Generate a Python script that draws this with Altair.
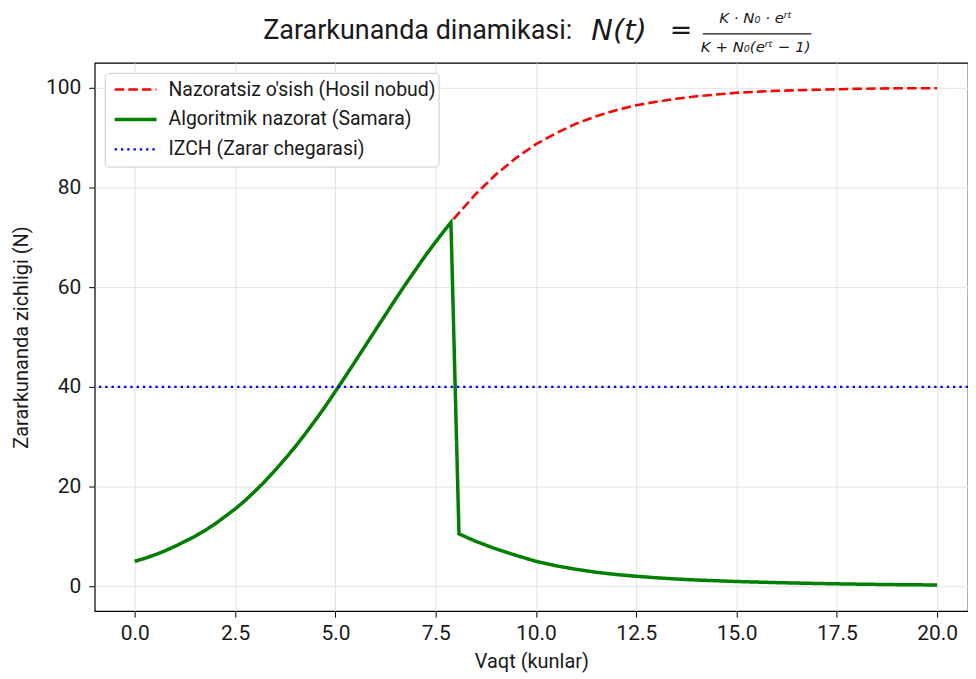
import altair as alt
import pandas as pd

# ---- data ----
SERIES = ["Nazoratsiz o'sish (Hosil nobud)", "Algoritmik nazorat (Samara)", "IZCH (Zarar chegarasi)"]

# shared rising part (both curves coincide until the intervention)
t_rise = [0, 0.25, 0.5, 0.75, 1, 1.25, 1.5, 1.75, 2, 2.25, 2.5, 2.75, 3, 3.25, 3.5, 3.75,
          4, 4.25, 4.5, 4.75, 5, 5.25, 5.5, 5.75, 6, 6.25, 6.5, 6.75, 7, 7.25, 7.5, 7.75, 7.88]
n_rise = [5.0, 5.6, 6.3, 7.1, 8.0, 9.0, 10.0, 11.2, 12.5, 14.0, 15.5, 17.2, 19.1, 21.1,
          23.3, 25.6, 28.0, 30.6, 33.3, 36.1, 39.1, 42.1, 45.2, 48.3, 51.4, 54.5, 57.6,
          60.6, 63.5, 66.4, 69.1, 71.7, 73.0]

# uncontrolled growth after t = 7.88
t_free_tail = [8.08, 8.5, 9, 9.5, 10, 10.5, 11, 11.5, 12, 12.5, 13, 13.5, 14, 15, 16, 17,
               18, 19, 20]
n_free_tail = [74.9, 78.7, 82.6, 85.9, 88.7, 90.9, 92.8, 94.3, 95.5, 96.5, 97.2, 97.8,
               98.3, 99.0, 99.4, 99.6, 99.8, 99.9, 99.9]

# controlled population after t = 7.88
t_ctrl_tail = [8.08, 8.5, 9, 9.5, 10, 10.5, 11, 11.5, 12, 12.5, 13, 13.5, 14, 15, 16, 17,
               18, 19, 20]
n_ctrl_tail = [10.5, 9.0, 7.5, 6.2, 5.0, 4.1, 3.4, 2.8, 2.35, 2.0, 1.7, 1.45, 1.25, 0.95,
               0.72, 0.55, 0.42, 0.32, 0.25]

threshold = [40]

COLORS = ["#ff0000", "#008000", "#0000ff"]
DASHES = [[9.5, 4.2], [1, 0], [2.4, 3.9]]
WIDTHS = [2.6, 3.5, 2.4]
FONT = "Roboto"
MATH = "DejaVu Sans"
INK = "#1a1a1a"

df_free = pd.DataFrame({"t": t_rise + t_free_tail, "N": n_rise + n_free_tail,
                        "series": SERIES[0]})
df_ctrl = pd.DataFrame({"t": t_rise + t_ctrl_tail, "N": n_rise + n_ctrl_tail,
                        "series": SERIES[1]})
df_thr = pd.DataFrame({"N": threshold, "series": SERIES[2]})

xscale = alt.Scale(domain=[-1, 20.77], nice=False, zero=False)
yscale = alt.Scale(domain=[-5, 105], nice=False, zero=False)

color = alt.Color("series:N", title=None,
                  scale=alt.Scale(domain=SERIES, range=COLORS))
dash = alt.StrokeDash("series:N", title=None,
                      scale=alt.Scale(domain=SERIES, range=DASHES))
width = alt.StrokeWidth("series:N", title=None,
                        scale=alt.Scale(type="ordinal", domain=SERIES, range=WIDTHS))

xenc = alt.X("t:Q", scale=xscale,
             axis=alt.Axis(title="Vaqt (kunlar)", values=[0, 2.5, 5, 7.5, 10, 12.5, 15, 17.5, 20],
                           format=".1f"))
yenc = alt.Y("N:Q", scale=yscale,
             axis=alt.Axis(title="Zararkunanda zichligi (N)", values=[0, 20, 40, 60, 80, 100]))

free = alt.Chart(df_free).mark_line(clip=True).encode(
    x=xenc, y=yenc, color=color, strokeDash=dash, strokeWidth=width)
ctrl = alt.Chart(df_ctrl).mark_line(clip=True, strokeJoin="miter").encode(
    x=xenc, y=yenc, color=color, strokeDash=dash, strokeWidth=width)
thr = alt.Chart(df_thr).mark_rule().encode(
    y=alt.Y("N:Q", scale=yscale), color=color, strokeDash=dash, strokeWidth=width)

one = pd.DataFrame({"a": [0]})
title_a = alt.Chart(one).mark_text(
    text="Zararkunanda dinamikasi:", font=FONT, fontSize=27, align="right",
    baseline="middle", color=INK).encode(x=alt.value(479), y=alt.value(-32))
title_b = alt.Chart(one).mark_text(
    text="N(t)", font=MATH, fontStyle="italic", fontSize=29, align="center",
    baseline="middle", color=INK).encode(x=alt.value(526), y=alt.value(-32))
title_eq = alt.Chart(one).mark_text(
    text="=", font=MATH, fontSize=27, align="center",
    baseline="middle", color=INK).encode(x=alt.value(588), y=alt.value(-32))
num = alt.Chart(one).mark_text(
    text="K · N₀ · eʳᵗ", font=MATH, fontStyle="italic", fontSize=15,
    align="center", baseline="middle", color=INK).encode(x=alt.value(663), y=alt.value(-45))
den = alt.Chart(one).mark_text(
    text="K + N₀(eʳᵗ − 1)", font=MATH, fontStyle="italic", fontSize=15,
    align="center", baseline="middle", color=INK).encode(x=alt.value(663), y=alt.value(-16))
bar = alt.Chart(one).mark_rule(color=INK, strokeWidth=1.2).encode(
    x=alt.value(610), x2=alt.value(719), y=alt.value(-29))

chart = alt.layer(free, ctrl, thr, title_a, title_b, title_eq, num, den, bar).properties(
    width=876, height=550,
    autosize=alt.AutoSizeParams(type="none"),
    padding={"left": 87, "top": 54, "right": 0, "bottom": 64},
).configure_view(
    stroke="#000000", strokeWidth=1.2
).configure_axis(
    domain=False, grid=True, gridColor="#e3e3e3", gridWidth=1,
    tickColor="#000000", tickSize=6, labelFont=FONT, labelFontSize=21,
    labelColor=INK, titleFont=FONT, titleFontSize=20, titleFontWeight="normal",
    titleColor=INK,
).configure_axisX(labelPadding=5, titlePadding=9
).configure_axisY(labelPadding=8, titlePadding=14
).configure_legend(
    orient="top-left", offset=10, padding=2, fillColor="white", strokeColor="#cccccc",
    cornerRadius=4, labelFont=FONT, labelFontSize=19.5, labelColor=INK,
    symbolType="stroke", symbolSize=1764, clipHeight=29.5, rowPadding=0, labelOffset=10,
    symbolOffset=6, labelLimit=400,
)

chart.save("out.html", embed_options={"renderer": "svg", "actions": False})
